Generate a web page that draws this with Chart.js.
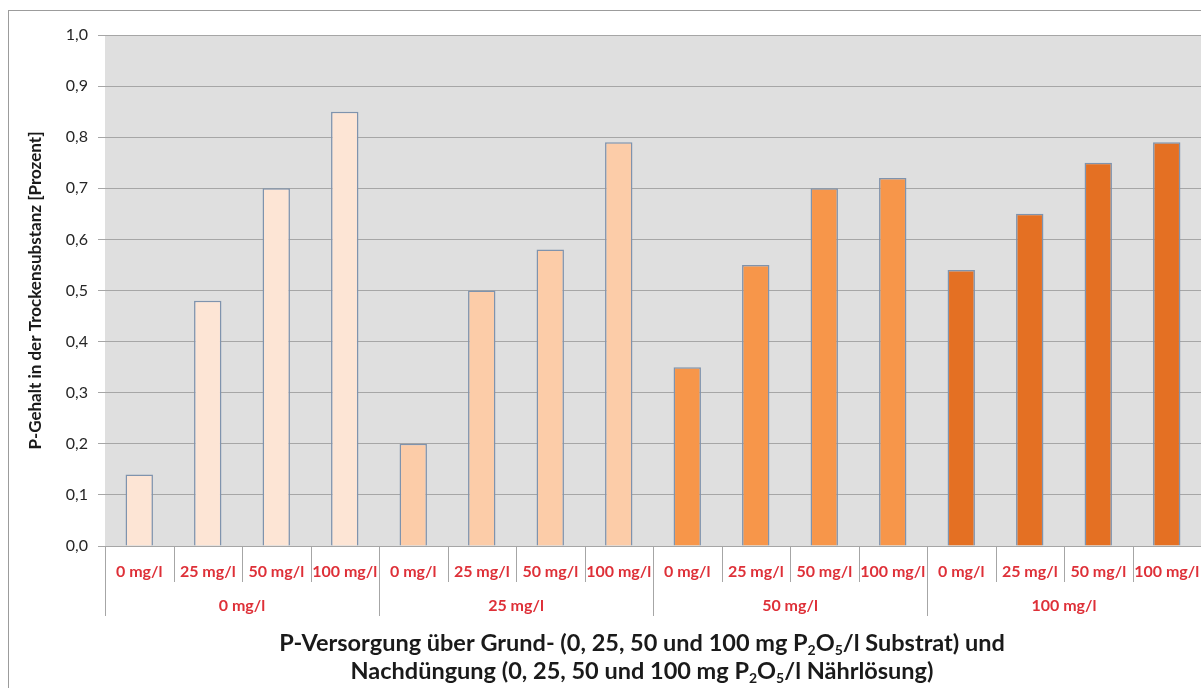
<!DOCTYPE html>
<html>
<head>
<meta charset="utf-8">
<script src="https://cdn.jsdelivr.net/npm/chart.js@4/dist/chart.umd.min.js"></script>
<style>
  html, body { margin: 0; padding: 0; background: #fff; overflow: hidden; }
  canvas { display: block; }
</style>
</head>
<body>
<canvas id="pChart" width="1201" height="688" style="width:1201px;height:688px"></canvas>
<script>
/* data */
const subLabels = ['0 mg/l', '25 mg/l', '50 mg/l', '100 mg/l',
                   '0 mg/l', '25 mg/l', '50 mg/l', '100 mg/l',
                   '0 mg/l', '25 mg/l', '50 mg/l', '100 mg/l',
                   '0 mg/l', '25 mg/l', '50 mg/l', '100 mg/l'];
const groupLabels = ['0 mg/l', '25 mg/l', '50 mg/l', '100 mg/l'];
const pValues = [0.14, 0.48, 0.70, 0.85,
                 0.20, 0.50, 0.58, 0.79,
                 0.35, 0.55, 0.70, 0.72,
                 0.54, 0.65, 0.75, 0.79];
const groupColors = ['#fde5d5', '#fccca8', '#f7964a', '#e47023'];
const yTitle = 'P-Gehalt in der Trockensubstanz [Prozent]';
const xTitleLines = [
  [['P-Versorgung über Grund- (0, 25, 50 und 100 mg P', 0], ['2', 1], ['O', 0], ['5', 1], ['/l Substrat) und', 0]],
  [['Nachdüngung (0, 25, 50 und 100 mg P', 0], ['2', 1], ['O', 0], ['5', 1], ['/l Nährlösung)', 0]]
];

const FONT = 'Lato, "Open Sans", sans-serif';
const RED = '#de3038';
const LINE = '#a6a6a6';

// draw a line of text with subscript parts, centred on cx
function drawRich(ctx, parts, cx, y, size) {
  const big = 'bold ' + size + 'px ' + FONT;
  const small = 'bold ' + Math.round(size * 0.6) + 'px ' + FONT;
  let total = 0;
  parts.forEach(p => { ctx.font = p[1] ? small : big; total += ctx.measureText(p[0]).width; });
  let x = cx - total / 2;
  parts.forEach(p => {
    ctx.font = p[1] ? small : big;
    ctx.fillText(p[0], x, p[1] ? y + size * 0.3 : y);
    x += ctx.measureText(p[0]).width;
  });
}

/* background, frame, category separators, group labels, axis title */
const excelDecor = {
  id: 'excelDecor',
  beforeDraw(chart) {
    const { ctx, chartArea: a } = chart;
    ctx.save();
    ctx.fillStyle = '#fff';
    ctx.fillRect(0, 0, chart.width, chart.height);
    ctx.strokeStyle = '#9c9c9c';
    ctx.lineWidth = 1;
    ctx.strokeRect(8.5, 10.5, chart.width + 40, chart.height + 40);
    ctx.fillStyle = '#dfdfdf';
    ctx.fillRect(a.left, a.top, a.right - a.left, a.bottom - a.top);
    ctx.restore();
  },
  afterDraw(chart) {
    const ctx = chart.ctx;
    const x = chart.scales.x;
    const bottom = chart.chartArea.bottom;
    const step = x.getPixelForValue(1) - x.getPixelForValue(0);
    ctx.save();
    ctx.strokeStyle = LINE;
    ctx.lineWidth = 1;
    for (let i = 0; i <= subLabels.length; i++) {
      const px = Math.round(x.getPixelForValue(i) - step / 2) + 0.5;
      const len = i % 4 === 0 ? 70 : 36;
      ctx.beginPath();
      ctx.moveTo(px, bottom);
      ctx.lineTo(px, bottom + len);
      ctx.stroke();
    }
    ctx.fillStyle = RED;
    ctx.font = 'bold 16px ' + FONT;
    ctx.textAlign = 'center';
    ctx.textBaseline = 'middle';
    groupLabels.forEach((g, k) => {
      const cx = (x.getPixelForValue(k * 4) + x.getPixelForValue(k * 4 + 3)) / 2;
      ctx.fillText(g, cx, 606);
    });
    ctx.fillStyle = '#1a1a1a';
    ctx.textAlign = 'left';
    drawRich(ctx, xTitleLines[0], 642, 643, 23.5);
    drawRich(ctx, xTitleLines[1], 642, 671, 23.5);
    ctx.restore();
  }
};

const ctx = document.getElementById('pChart').getContext('2d');
const pChart = new Chart(ctx, {
  type: 'bar',
  data: {
    labels: subLabels,
    datasets: [{
      data: pValues,
      backgroundColor: pValues.map((v, i) => groupColors[Math.floor(i / 4)]),
      borderColor: '#7f93ad',
      borderWidth: 1.5,
      barPercentage: 0.4,
      categoryPercentage: 1
    }]
  },
  options: {
    responsive: false,
    animation: false,
    devicePixelRatio: 1,
    layout: { padding: { top: 35, right: 0, bottom: 0, left: 0 } },
    plugins: { legend: { display: false }, tooltip: { enabled: false } },
    scales: {
      x: {
        grid: { display: false, drawTicks: false },
        border: { display: false },
        ticks: {
          color: RED,
          font: { family: FONT, size: 16, weight: 'bold' },
          padding: 16,
          maxRotation: 0,
          autoSkip: false
        },
        afterFit(scale) {
          scale.height = 142;
          scale.paddingLeft = 0;
          scale.paddingRight = 0;
        }
      },
      y: {
        min: 0,
        max: 1,
        grid: { color: LINE, tickColor: LINE, tickLength: 7, lineWidth: 1 },
        border: { display: false },
        ticks: {
          stepSize: 0.1,
          padding: 10,
          color: '#262626',
          font: { family: FONT, size: 16 },
          callback: v => v.toFixed(1).replace('.', ',')
        },
        title: {
          display: true,
          text: yTitle,
          color: '#1a1a1a',
          font: { family: FONT, size: 17, weight: 'bold' },
          padding: { top: 25, bottom: 0 }
        },
        afterFit(scale) { scale.width = 105; }
      }
    }
  },
  plugins: [excelDecor]
});
</script>
</body>
</html>
